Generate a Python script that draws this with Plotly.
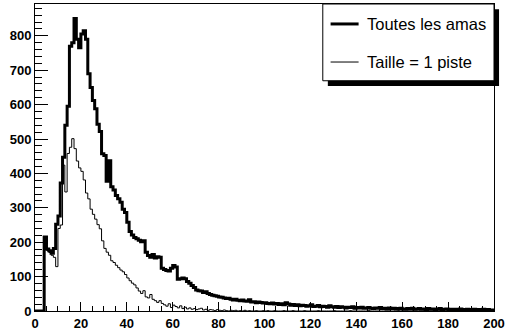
import numpy as np
import plotly.graph_objects as go

# Histogram: 200 bins of width 1 from 0 to 200
x_min, x_max, n_bins = 0, 200, 200

toutes_les_amas = [
    0, 0, 0, 0, 215, 180, 175, 168, 182, 252,
    276, 372, 447, 540, 595, 770, 780, 850, 790, 765,
    805, 815, 790, 690, 650, 612, 588, 543, 522, 457,
    452, 377, 437, 361, 352, 336, 326, 316, 296, 286,
    258, 231, 221, 214, 210, 206, 201, 204, 171, 161,
    156, 164, 154, 158, 156, 124, 121, 118, 116, 124,
    132, 128, 92, 94, 96, 94, 86, 81, 74, 68,
    61, 59, 58, 54, 56, 51, 48, 46, 44, 43,
    41, 40, 38, 36, 37, 34, 32, 34, 31, 30,
    32, 29, 28, 33, 26, 27, 24, 26, 25, 23,
    24, 22, 21, 23, 20, 22, 19, 21, 18, 24,
    20, 17, 19, 16, 18, 15, 17, 16, 14, 15,
    18, 13, 14, 16, 12, 14, 13, 11, 15, 12,
    11, 13, 10, 12, 11, 9, 11, 10, 12, 8,
    10, 9, 11, 8, 9, 10, 8, 7, 9, 8,
    10, 7, 8, 6, 9, 7, 8, 6, 7, 8,
    6, 5, 7, 6, 8, 5, 6, 7, 5, 6,
    4, 7, 5, 6, 4, 5, 7, 4, 5, 6,
    4, 5, 3, 5, 4, 6, 4, 3, 5, 4,
    3, 5, 4, 3, 4, 5, 3, 4, 2, 3,
]

taille_1_piste = [
    0, 0, 0, 0, 205, 176, 170, 162, 156, 129,
    240, 250, 424, 346, 458, 476, 501, 472, 436, 416,
    406, 381, 343, 326, 296, 281, 267, 251, 239, 204,
    182, 171, 162, 146, 141, 133, 126, 119, 114, 106,
    96, 88, 81, 76, 67, 58, 51, 59, 41, 38,
    48, 34, 30, 25, 30, 22, 18, 14, 21, 10,
    17, 13, 9, 15, 7, 11, 6, 9, 5, 7,
    4, 6, 8, 3, 5, 2, 4, 3, 1, 4,
    2, 1, 3, 1, 0, 2, 1, 2, 0, 1,
    0, 2, 0, 1, 0, 0, 1, 0, 0, 1,
    0, 1, 0, 0, 1, 0, 0, 0, 1, 0,
    0, 0, 1, 0, 0, 0, 0, 1, 0, 0,
    0, 0, 0, 1, 0, 0, 0, 0, 0, 0,
    1, 0, 0, 0, 0, 0, 0, 1, 0, 0,
    0, 0, 0, 0, 0, 1, 0, 0, 0, 0,
    0, 0, 0, 0, 0, 0, 0, 0, 1, 0,
    0, 0, 0, 0, 0, 0, 0, 0, 0, 0,
    0, 0, 0, 0, 0, 0, 0, 0, 0, 0,
    0, 0, 0, 0, 0, 0, 0, 0, 0, 0,
    0, 0, 0, 0, 0, 0, 0, 0, 0, 0,
]

legend_labels = ["Toutes les amas", "Taille = 1 piste"]

edges = np.linspace(x_min, x_max, n_bins + 1)


def step_outline(values):
    # Closing point so the last bin is drawn up to the upper edge
    return edges, list(values) + [values[-1]]


fig = go.Figure()

ex, ey = step_outline(taille_1_piste)
fig.add_trace(go.Scatter(x=ex, y=ey, mode="lines", line_shape="hv",
                         line=dict(color="black", width=1),
                         name=legend_labels[1], showlegend=False))
ex, ey = step_outline(toutes_les_amas)
fig.add_trace(go.Scatter(x=ex, y=ey, mode="lines", line_shape="hv",
                         line=dict(color="black", width=3),
                         name=legend_labels[0], showlegend=False))

y_top = max(toutes_les_amas) * 1.05

tick_font = dict(family="Liberation Sans, Arial, sans-serif", size=13,
                 color="black", weight=700)

fig.update_xaxes(range=[x_min, x_max], dtick=20, tick0=0,
                 ticks="inside", ticklen=9, tickwidth=1, tickcolor="black",
                 minor=dict(ticks="inside", ticklen=5, dtick=5,
                            tickcolor="black", tickwidth=1, showgrid=False),
                 showline=True, linecolor="black", linewidth=1, mirror=True,
                 showgrid=False, zeroline=False, tickfont=tick_font)
fig.update_yaxes(range=[0, y_top], dtick=100, tick0=0,
                 ticks="inside", ticklen=13, tickwidth=1, tickcolor="black",
                 minor=dict(ticks="inside", ticklen=7, dtick=20,
                            tickcolor="black", tickwidth=1, showgrid=False),
                 showline=True, linecolor="black", linewidth=1, mirror=True,
                 showgrid=False, zeroline=False, tickfont=tick_font)

# Legend box with drop shadow, in paper coordinates
box_x0, box_x1 = 0.627, 1.0
box_y0, box_y1 = 0.75, 1.0
sh_dx, sh_dy = 0.011, 0.017
shapes = [
    dict(type="rect", xref="paper", yref="paper",
         x0=box_x0 + sh_dx, x1=box_x1 + sh_dx, y0=box_y0 - sh_dy, y1=box_y1 - sh_dy,
         fillcolor="black", line=dict(width=0), layer="above"),
    dict(type="rect", xref="paper", yref="paper",
         x0=box_x0, x1=box_x1, y0=box_y0, y1=box_y1,
         fillcolor="white", line=dict(color="black", width=1), layer="above"),
]
entry_y = [0.935, 0.811]
entry_w = [3, 1]
annotations = []
for label, yy, w in zip(legend_labels, entry_y, entry_w):
    shapes.append(dict(type="line", xref="paper", yref="paper",
                       x0=0.644, x1=0.705, y0=yy, y1=yy,
                       line=dict(color="black", width=w), layer="above"))
    annotations.append(dict(xref="paper", yref="paper", x=0.72, y=yy,
                            text=label, showarrow=False, xanchor="left",
                            yanchor="middle",
                            font=dict(family="Liberation Sans, Arial, sans-serif",
                                      size=16.5, color="black")))

fig.update_layout(
    width=508, height=334,
    margin=dict(l=35, r=11, t=3, b=21, pad=0),
    paper_bgcolor="white", plot_bgcolor="white",
    shapes=shapes, annotations=annotations,
    showlegend=False,
)

fig.write_html("out.html")
